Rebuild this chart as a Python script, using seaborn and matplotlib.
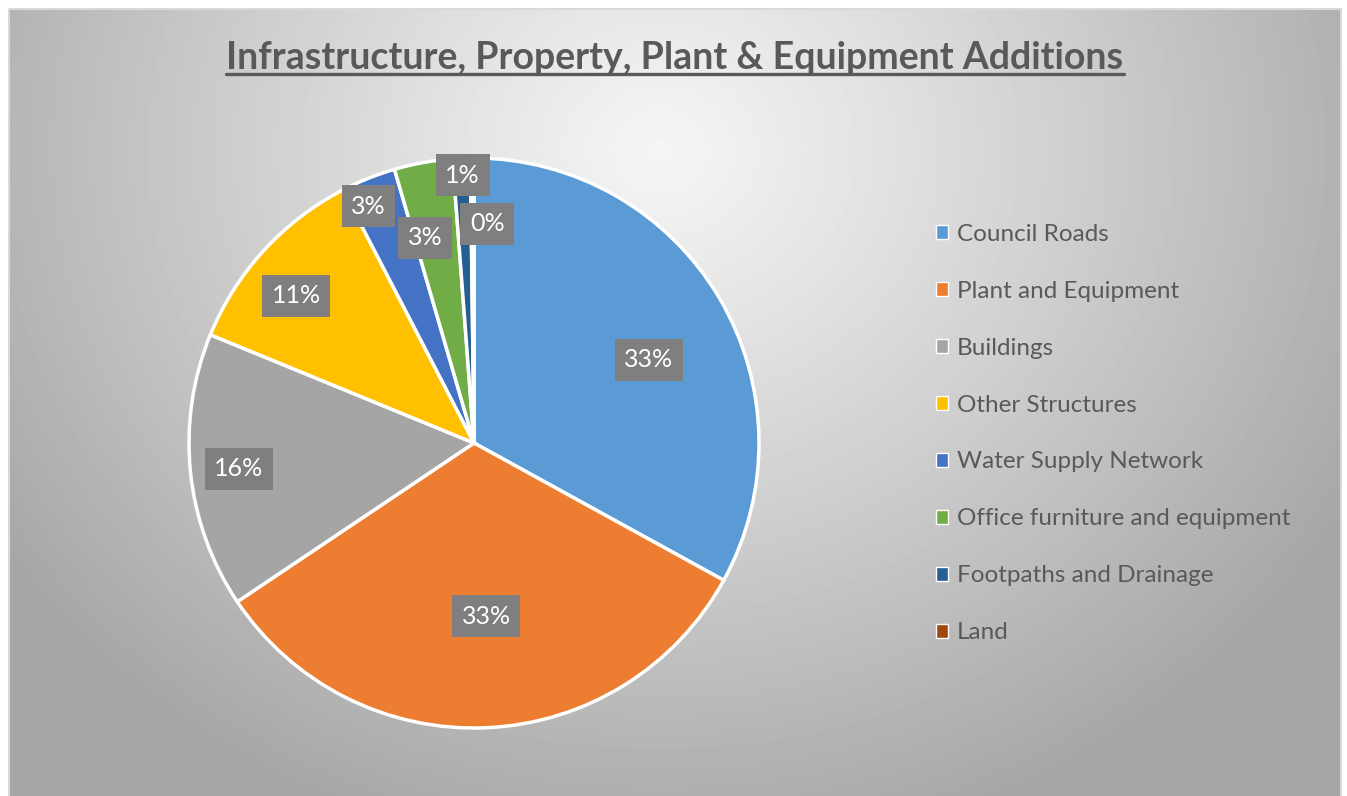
import numpy as np
import matplotlib.pyplot as plt
import seaborn as sns
from matplotlib.patches import Patch, Rectangle
from matplotlib.lines import Line2D

# data (share of total additions, %)
categories = ["Council Roads", "Plant and Equipment", "Buildings", "Other Structures",
              "Water Supply Network", "Office furniture and equipment",
              "Footpaths and Drainage", "Land"]
shares = [33.0, 32.6, 15.6, 11.2, 3.1, 3.3, 1.0, 0.2]
pct_labels = ["33%", "33%", "16%", "11%", "3%", "3%", "1%", "0%"]
title = "Infrastructure, Property, Plant & Equipment Additions"

sns.set_style("white")
plt.rcParams['font.family'] = ['Lato', 'DejaVu Sans']
colors = sns.color_palette(["#5B9BD5", "#ED7D31", "#A5A5A5", "#FFC000",
                            "#4472C4", "#70AD47", "#255E91", "#9E480E"])
text_grey = "#595959"

W, H = 1347, 796
fig = plt.figure(figsize=(W / 100, H / 100), dpi=100)

# grey radial gradient background of the chart area
bg = fig.add_axes([0, 0, 1, 1])
bg.axis('off')
yy, xx = np.mgrid[0:H, 0:W]
d = np.clip(np.sqrt(((xx - 660) / 800) ** 2 + ((yy - 150) / 720) ** 2), 0, 1)
img = 0.96 - (0.96 - 0.65) * d ** 1.1
img[(xx < 9) | (xx > 1340) | (yy < 9)] = 1.0
bg.imshow(img, cmap='gray', vmin=0, vmax=1, extent=(0, W, H, 0), aspect='auto')
bg.set_xlim(0, W)
bg.set_ylim(H, 0)
bg.add_patch(Rectangle((8.5, 8.5), 1332, 800, fill=False, ec="#d9d9d9", lw=1.5))

# pie
cx, cy, r = 474, 443, 285
pad = 8
ax = fig.add_axes([(cx - r - pad) / W, (H - cy - r - pad) / H, 2 * (r + pad) / W, 2 * (r + pad) / H])
wedges, _ = ax.pie(shares, colors=colors, startangle=90, counterclock=False, radius=1,
                   wedgeprops=dict(edgecolor='white', linewidth=2.5))
lim = (r + pad) / r
ax.set_xlim(-lim, lim)
ax.set_ylim(-lim, lim)
ax.set_aspect('equal')

# label placement: radius fraction and angle tweak (deg) from the wedge middle
label_r = [0.68, 0.61, 0.83, 0.81, 0.91, 0.74, 0.94, 0.77]
label_dt = [-5.1, 1.5, 0.5, 2.8, 2.2, 3.1, -0.1, -3.8]
for w, lab, lr, dt in zip(wedges, pct_labels, label_r, label_dt):
    ang = np.deg2rad((w.theta1 + w.theta2) / 2 + dt)
    ax.text(lr * np.cos(ang), lr * np.sin(ang), lab, ha='center', va='center',
            color='white', fontsize=18,
            bbox=dict(boxstyle='square,pad=0.38', fc='#7f7f7f', ec='none'))

# legend
handles = [Patch(facecolor=c, edgecolor='white', linewidth=1) for c in colors]
fig.legend(handles, categories, loc='center left', bbox_to_anchor=(936 / W, 1 - 433.5 / H),
           frameon=False, fontsize=17.5, handlelength=0.5, handleheight=0.5,
           handletextpad=0.35, labelspacing=1.48, borderpad=0, borderaxespad=0,
           labelcolor=text_grey)

# underlined title
t = fig.text(675 / W, 1 - 58 / H, title, ha='center', va='center', fontsize=27,
             fontweight='bold', color=text_grey)
fig.canvas.draw()
bb = t.get_window_extent()
fig.add_artist(Line2D([bb.x0 / W, bb.x1 / W], [(bb.y0 + 1) / H] * 2,
                      transform=fig.transFigure, color=text_grey, lw=2.4))

fig.savefig('out.png', dpi=100)
